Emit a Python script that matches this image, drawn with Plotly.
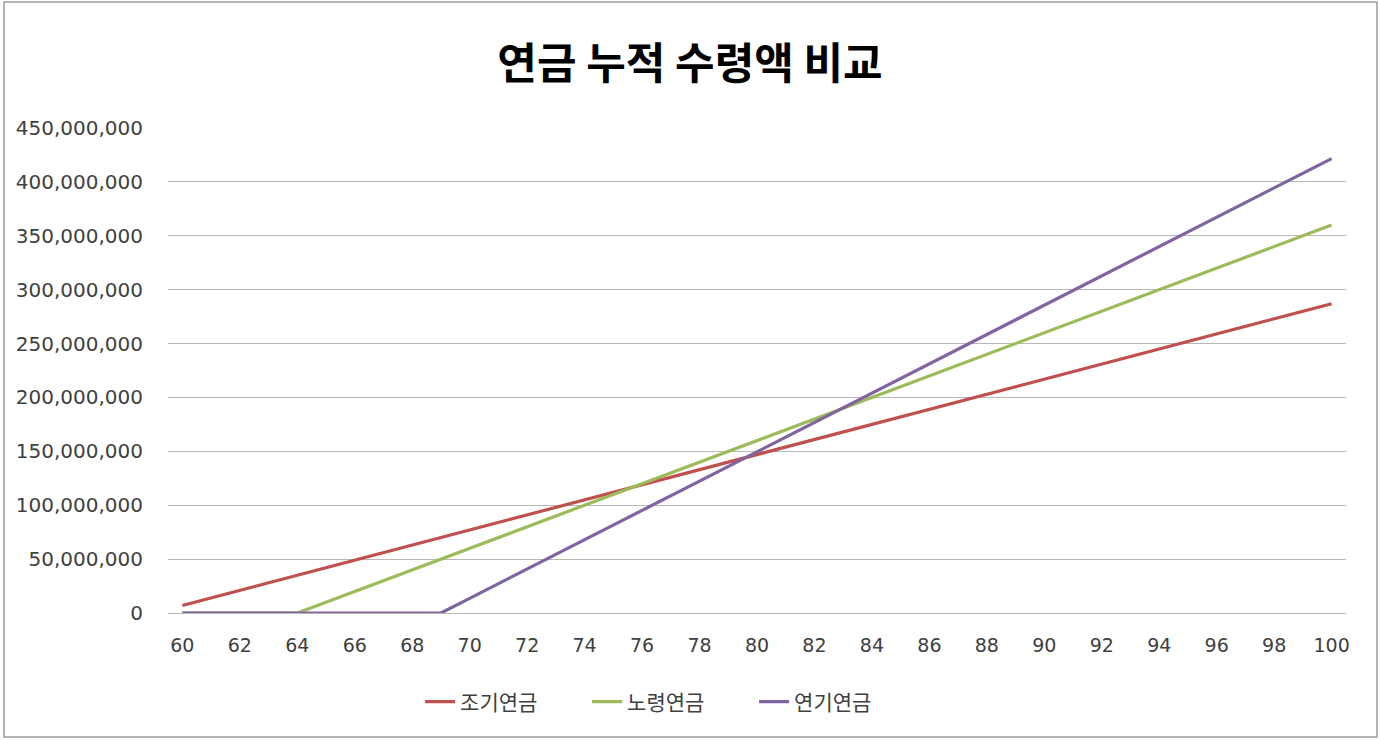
import plotly.graph_objects as go

ages = list(range(60, 101))
x_ticks = list(range(60, 101, 2))

early = [7000000, 14000000, 21000000, 28000000, 35000000, 42000000, 49000000, 56000000,
         63000000, 70000000, 77000000, 84000000, 91000000, 98000000, 105000000, 112000000,
         119000000, 126000000, 133000000, 140000000, 147000000, 154000000, 161000000,
         168000000, 175000000, 182000000, 189000000, 196000000, 203000000, 210000000,
         217000000, 224000000, 231000000, 238000000, 245000000, 252000000, 259000000,
         266000000, 273000000, 280000000, 287000000]

normal = [0, 0, 0, 0, 0, 10000000, 20000000, 30000000, 40000000, 50000000, 60000000,
          70000000, 80000000, 90000000, 100000000, 110000000, 120000000, 130000000,
          140000000, 150000000, 160000000, 170000000, 180000000, 190000000, 200000000,
          210000000, 220000000, 230000000, 240000000, 250000000, 260000000, 270000000,
          280000000, 290000000, 300000000, 310000000, 320000000, 330000000, 340000000,
          350000000, 360000000]

deferred = [0, 0, 0, 0, 0, 0, 0, 0, 0, 0, 13600000, 27200000, 40800000, 54400000,
            68000000, 81600000, 95200000, 108800000, 122400000, 136000000, 149600000,
            163200000, 176800000, 190400000, 204000000, 217600000, 231200000, 244800000,
            258400000, 272000000, 285600000, 299200000, 312800000, 326400000, 340000000,
            353600000, 367200000, 380800000, 394400000, 408000000, 421600000]

series_names = ["조기연금", "노령연금", "연기연금"]
series_colors = ["#C0504D", "#9BBB59", "#8064A2"]

KFONT = "Noto Sans CJK KR"
NFONT = "DejaVu Sans"

fig = go.Figure()
for name, vals, col in zip(series_names, [early, normal, deferred], series_colors):
    fig.add_trace(go.Scatter(x=ages, y=vals, mode="lines", name=name,
                             line=dict(color=col, width=3.2)))

fig.update_layout(
    width=1380, height=740,
    margin=dict(l=168, r=34, t=128, b=127),
    paper_bgcolor="white", plot_bgcolor="white",
    font=dict(family=KFONT, color="#404040", size=17),
    title=dict(text="<b>연금 누적 수령액 비교</b>", x=0.5, xref="container", xanchor="center",
               y=0.9135, yref="container", yanchor="middle",
               font=dict(family=KFONT, size=43, color="#000000")),
    showlegend=True,
    legend=dict(orientation="h", x=0.214, xanchor="left", y=-0.1835, yanchor="middle",
                font=dict(family=KFONT, size=21, color="#404040"),
                entrywidth=122, entrywidthmode="pixels", tracegroupgap=0),
    shapes=[dict(type="rect", xref="paper", yref="paper", x0=-0.1392, x1=1.0263,
                 y0=-0.2557, y1=1.2598, line=dict(color="#9a9a9a", width=1.5),
                 fillcolor="rgba(0,0,0,0)", layer="below")],
)

fig.update_xaxes(range=[59.5, 100.5], tickvals=x_ticks, showgrid=False, zeroline=False,
                 showline=False, ticks="outside", ticklen=15, tickcolor="rgba(0,0,0,0)",
                 tickfont=dict(family=NFONT, size=19, color="#404040"))
fig.update_yaxes(range=[0, 450000000], dtick=50000000, tickformat=",d", showgrid=True,
                 gridcolor="#b8b8b8", gridwidth=1.2, zeroline=True, zerolinecolor="#b8b8b8",
                 zerolinewidth=1.2, showline=False, ticks="outside", ticklen=20,
                 tickcolor="rgba(0,0,0,0)",
                 tickfont=dict(family=NFONT, size=20, color="#404040"))

fig.write_html("out.html", config={"displayModeBar": False},
               post_script="document.body.style.margin='0px';")
